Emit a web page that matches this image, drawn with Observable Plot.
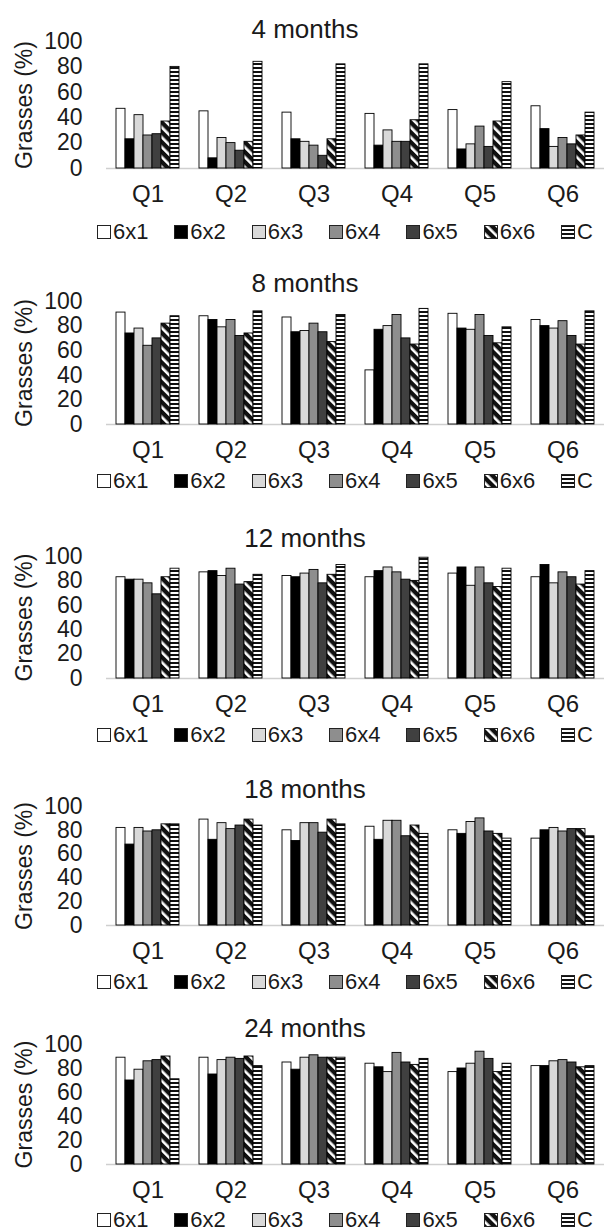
<!DOCTYPE html>
<html><head><meta charset="utf-8">
<script src="https://cdn.jsdelivr.net/npm/d3@7"></script>
<script src="https://cdn.jsdelivr.net/npm/@observablehq/plot@0.6"></script>
<style>
html,body{margin:0;padding:0;background:#fff;}
body{width:606px;height:1230px;position:relative;overflow:hidden;font-family:"Liberation Sans",Arial,sans-serif;color:#1a1a1a;}
.title{position:absolute;left:0;width:606px;text-align:center;font-size:26px;line-height:26px;margin-top:-13px;padding-left:4px;box-sizing:border-box;}
.legend{position:absolute;left:97px;width:496px;height:24px;margin-top:-12px;display:flex;justify-content:space-between;align-items:center;font-size:22px;line-height:24px;}
.legend span.item{display:flex;align-items:center;}
.legend svg{margin-right:2px;}
.panel{position:absolute;left:0;}
</style></head><body>
<svg width="0" height="0" style="position:absolute">
  <defs>
    <pattern id="hatchDiag" width="7" height="7" patternUnits="userSpaceOnUse" patternTransform="rotate(-45)">
      <rect width="7" height="7" fill="#111"/><rect width="2.6" height="7" fill="#fff"/>
    </pattern>
    <pattern id="hatchH" width="4" height="4" patternUnits="userSpaceOnUse">
      <rect width="4" height="4" fill="#fff"/><rect width="4" height="2" fill="#111"/>
    </pattern>
  </defs>
</svg>
<div id="root"></div>
<script>
// ---------- data ----------
const questions = ["Q1", "Q2", "Q3", "Q4", "Q5", "Q6"];
const treatments = ["6x1", "6x2", "6x3", "6x4", "6x5", "6x6", "C"];
const periods = ["4 months", "8 months", "12 months", "18 months", "24 months"];
const yTicks = [0, 20, 40, 60, 80, 100];
const yLabel = "Grasses (%)";
// rows: Q1..Q6 ; columns: 6x1, 6x2, 6x3, 6x4, 6x5, 6x6, C
const grasses4m = [
  [47, 23, 42, 26, 27, 37, 80],
  [45, 8, 24, 20, 14, 21, 84],
  [44, 23, 21, 18, 10, 23, 82],
  [43, 18, 30, 21, 21, 38, 82],
  [46, 15, 19, 33, 17, 37, 68],
  [49, 31, 17, 24, 19, 26, 44]
];
const grasses8m = [
  [91, 74, 78, 64, 70, 82, 88],
  [88, 85, 79, 85, 72, 74, 92],
  [87, 75, 76, 82, 75, 67, 89],
  [44, 77, 80, 89, 70, 65, 94],
  [90, 78, 77, 89, 72, 66, 79],
  [85, 80, 78, 84, 72, 65, 92]
];
const grasses12m = [
  [83, 81, 81, 78, 69, 83, 90],
  [87, 88, 84, 90, 77, 79, 85],
  [84, 83, 86, 89, 78, 85, 93],
  [83, 88, 91, 87, 81, 80, 99],
  [86, 91, 76, 91, 78, 75, 90],
  [83, 93, 78, 87, 83, 77, 88]
];
const grasses18m = [
  [82, 68, 82, 79, 80, 85, 85],
  [89, 72, 86, 81, 84, 89, 84],
  [80, 71, 86, 86, 78, 89, 85],
  [83, 72, 88, 88, 75, 84, 77],
  [80, 77, 87, 90, 79, 77, 73],
  [73, 80, 82, 79, 81, 81, 75]
];
const grasses24m = [
  [89, 70, 79, 86, 87, 90, 71],
  [89, 75, 87, 89, 88, 90, 82],
  [85, 79, 89, 91, 89, 89, 89],
  [84, 81, 77, 93, 85, 83, 88],
  [77, 80, 84, 94, 88, 77, 84],
  [82, 82, 86, 87, 85, 81, 82]
];
const panelValues = [grasses4m, grasses8m, grasses12m, grasses18m, grasses24m];

// ---------- styles / layout ----------
const fills = ["#ffffff", "#000000", "#d9d9d9", "#8e8e8e", "#404040", "url(#hatchDiag)", "url(#hatchH)"];
const layout = [
  {title: 29, y100: 41, y0: 168, legend: 232},
  {title: 283, y100: 301, y0: 424, legend: 481},
  {title: 538, y100: 556, y0: 678, legend: 735},
  {title: 789, y100: 806, y0: 925, legend: 982},
  {title: 1028, y100: 1044, y0: 1164, legend: 1220}
];
const marginTop = 14, marginBottom = 46;
const font = "'Liberation Sans', Arial, sans-serif";

const root = document.getElementById("root");

periods.forEach((period, p) => {
  const L = layout[p];
  const rows = [];
  panelValues[p].forEach((vals, qi) => vals.forEach((v, ti) => rows.push({q: questions[qi], t: treatments[ti], v, fill: fills[ti]})));

  const chart = Plot.plot({
    width: 606,
    height: marginTop + (L.y0 - L.y100) + marginBottom,
    marginTop, marginBottom, marginLeft: 104, marginRight: 0,
    style: {fontFamily: font, color: "#1a1a1a", background: "transparent", overflow: "visible"},
    fx: {domain: questions, paddingInner: 0.19, paddingOuter: 0.1},
    x: {domain: treatments, padding: 0, axis: null},
    y: {domain: [0, 100]},
    marks: [
      Plot.axisY({ticks: yTicks, tickSize: 0, tickPadding: 32, fontSize: 23, label: yLabel, labelAnchor: "center", labelArrow: "none", labelOffset: 99}),
      Plot.axisFx({anchor: "bottom", tickSize: 0, tickPadding: 16, fontSize: 24, label: null}),
      Plot.ruleY(questions, {fx: (d) => d, y: () => 0, insetLeft: -8, insetRight: -8, stroke: "#cfcfcf", strokeWidth: 1.5}),
      Plot.barY(rows, {fx: "q", x: "t", y: "v", fill: "fill", stroke: "#000", strokeWidth: 0.9})
    ]
  });
  const wrap = document.createElement("div");
  wrap.className = "panel";
  wrap.style.top = (L.y100 - marginTop) + "px";
  wrap.appendChild(chart);
  root.appendChild(wrap);

  const t = document.createElement("div");
  t.className = "title";
  t.style.top = L.title + "px";
  t.textContent = period;
  root.appendChild(t);

  const lg = document.createElement("div");
  lg.className = "legend";
  lg.style.top = L.legend + "px";
  treatments.forEach((tr, i) => {
    const item = document.createElement("span");
    item.className = "item";
    item.innerHTML = `<svg width="14" height="14"><rect x="0.5" y="0.5" width="13" height="13" fill="${fills[i]}" stroke="#222" stroke-width="1"/></svg><span>${tr}</span>`;
    lg.appendChild(item);
  });
  root.appendChild(lg);
});
</script>
</body></html>
